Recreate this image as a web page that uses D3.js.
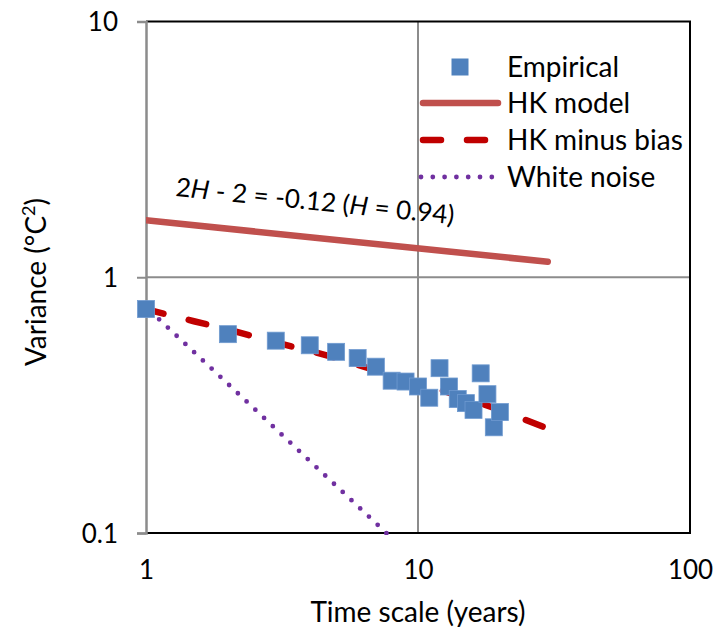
<!DOCTYPE html>
<html><head><meta charset="utf-8">
<script src="https://cdn.jsdelivr.net/npm/d3@7"></script>
<style>html,body{margin:0;padding:0;background:#fff;} text{font-family:Lato,"Open Sans",sans-serif;fill:#000;}</style>
</head><body>
<svg id="c" width="726" height="627"></svg>
<script>
// ---- data ----
const empiricalX = [1,2,3,4,5,6,7,8,9,10,11,12,13,14,15,16,17,18,19,20];
const empiricalY = [0.751,0.599,0.565,0.542,0.511,0.483,0.447,0.394,0.391,0.374,0.338,0.441,0.374,0.334,0.322,0.303,0.421,0.349,0.259,0.297];
const hkModelX = [1,30];
const hkModelY = [1.67,1.15];
const hkBiasX = [1,1.5,2,3,4,5,7,10,15,20,30];
const hkBiasY = [0.75,0.673,0.625,0.556,0.515,0.484,0.432,0.388,0.336,0.303,0.256];
const whiteX = [1,2,5,10,30];
const whiteY = [0.765,0.383,0.153,0.0765,0.0255];
const xTicks = [1,10,100];
const yTicks = [0.1,1,10];
const legendLabels = ["Empirical","HK model","HK minus bias","White noise"];

const svg = d3.select("#c");
const x = d3.scaleLog().domain([1,100]).range([146,690]);
const y = d3.scaleLog().domain([0.1,10]).range([533,21.5]);
const [x0,x1] = x.range(), [y0,y1] = y.range();

// gridlines
svg.append("g").selectAll("line").data([10]).join("line")
  .attr("x1",d=>x(d)).attr("x2",d=>x(d)).attr("y1",y1).attr("y2",y0)
  .attr("stroke","#8c8c8c").attr("stroke-width",2);
svg.append("g").selectAll("line").data([1]).join("line")
  .attr("x1",x0).attr("x2",x1).attr("y1",d=>y(d)).attr("y2",d=>y(d))
  .attr("stroke","#8c8c8c").attr("stroke-width",2);

// border (top, right, bottom)
svg.append("path").attr("d",`M${x0},${y1}H${x1}V${y0}H${x0}`)
  .attr("fill","none").attr("stroke","#000").attr("stroke-width",2);

// left axis
const ya = svg.append("g").attr("transform",`translate(${x0},0)`)
  .call(d3.axisLeft(y).tickValues(yTicks).tickSize(9).tickPadding(19).tickFormat(d=>String(d)));
ya.select(".domain").attr("stroke","#8c8c8c").attr("stroke-width",2.5);
ya.selectAll(".tick line").attr("stroke","#8c8c8c").attr("stroke-width",2);
ya.selectAll(".tick text").attr("font-size",26).attr("font-family","Lato").attr("fill","#000").attr("dy","0.35em");

// bottom axis labels
const xa = svg.append("g").attr("transform",`translate(0,${y0})`)
  .call(d3.axisBottom(x).tickValues(xTicks).tickSize(0).tickPadding(28).tickFormat(d=>String(d)));
xa.select(".domain").remove();
xa.selectAll(".tick text").attr("font-size",26).attr("font-family","Lato").attr("fill","#000");

// clip
svg.append("clipPath").attr("id","clip").append("rect")
  .attr("x",x0).attr("y",y1).attr("width",x1-x0).attr("height",y0-y1+2);
const g = svg.append("g").attr("clip-path","url(#clip)");

const line = d3.line().x(d=>x(d[0])).y(d=>y(d[1]));
g.append("path").datum(hkModelX.map((v,i)=>[v,hkModelY[i]])).attr("d",line)
  .attr("fill","none").attr("stroke","#C0504D").attr("stroke-width",6.5).attr("stroke-linecap","round");
g.append("path").datum(hkBiasX.map((v,i)=>[v,hkBiasY[i]])).attr("d",line)
  .attr("fill","none").attr("stroke","#C00000").attr("stroke-width",6.5).attr("stroke-linecap","round")
  .attr("stroke-dasharray","18,26");
g.append("path").datum(whiteX.map((v,i)=>[v,whiteY[i]])).attr("d",line)
  .attr("fill","none").attr("stroke","#7030A0").attr("stroke-width",4.8).attr("stroke-linecap","round")
  .attr("stroke-dasharray","0,12").attr("stroke-dashoffset",-6);

// empirical squares
const s = 17;
svg.append("g").selectAll("rect").data(empiricalX.map((v,i)=>[v,empiricalY[i]])).join("rect")
  .attr("x",d=>x(d[0])-s/2).attr("y",d=>y(d[1])-s/2).attr("width",s).attr("height",s)
  .attr("fill","#4F81BD").attr("stroke","#6f9ad0").attr("stroke-width",0.8);

// legend
const lg = svg.append("g");
const rowsY = [67,103,140,177];
lg.append("rect").attr("x",460-s/2).attr("y",rowsY[0]-s/2).attr("width",s).attr("height",s).attr("fill","#4F81BD");
lg.append("line").attr("x1",423).attr("x2",498).attr("y1",rowsY[1]).attr("y2",rowsY[1])
  .attr("stroke","#C0504D").attr("stroke-width",6.5).attr("stroke-linecap","round");
lg.append("line").attr("x1",423).attr("x2",498).attr("y1",rowsY[2]).attr("y2",rowsY[2])
  .attr("stroke","#C00000").attr("stroke-width",6.5).attr("stroke-linecap","round").attr("stroke-dasharray","18,26");
lg.append("line").attr("x1",421).attr("x2",497).attr("y1",rowsY[3]).attr("y2",rowsY[3])
  .attr("stroke","#7030A0").attr("stroke-width",4.8).attr("stroke-linecap","round").attr("stroke-dasharray","0,11.8");
lg.selectAll("text").data(legendLabels).join("text")
  .attr("x",507).attr("y",(d,i)=>rowsY[i]).attr("dy","0.35em").attr("font-size",28).text(d=>d);

// annotation
const ann = svg.append("text").attr("transform","translate(175,196) rotate(5.8)").attr("font-size",26);
ann.append("tspan").text("2");
ann.append("tspan").attr("font-style","italic").text("H");
ann.append("tspan").text(" - 2 = -0.12 (");
ann.append("tspan").attr("font-style","italic").text("H");
ann.append("tspan").text(" = 0.94)");

// axis titles
svg.append("text").attr("x",418).attr("y",622).attr("text-anchor","middle").attr("font-size",28).text("Time scale (years)");
const yt = svg.append("text").attr("transform","translate(46,282) rotate(-90)").attr("text-anchor","middle").attr("font-size",28);
yt.append("tspan").text("Variance (°C");
yt.append("tspan").attr("font-size",18).attr("dy",-11).text("2");
yt.append("tspan").attr("dy",11).text(")");
</script>
</body></html>
